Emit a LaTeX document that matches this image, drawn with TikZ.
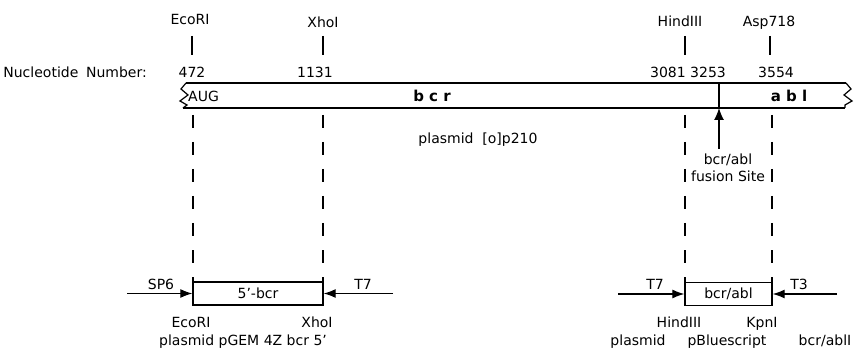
\documentclass[tikz,border=0pt]{standalone}
\usepackage{fontspec}
\setmainfont{DejaVu Sans}
\usetikzlibrary{arrows.meta}
\newcommand\lblfont{\fontsize{14}{16}\selectfont}
\newcommand\genefont{\fontsize{15}{17}\selectfont\bfseries}
\begin{document}
\begin{tikzpicture}[x=1pt,y=-1pt,
  lbl/.style={font=\lblfont, inner sep=0pt, anchor=base},
  barline/.style={line width=1.4pt, line join=miter},
  tick/.style={line width=1.4pt},
  dashln/.style={line width=1.4pt, dash pattern=on 13pt off 14pt, dash phase=20pt},
  arr/.style={-{Latex[length=12pt,width=9pt]}, line width=1.2pt},
  boxn/.style={draw, line width=1.3pt, minimum height=23pt, inner sep=0pt, font=\lblfont}]
\useasboundingbox (0,0) rectangle (854,358);

% ---- main bar ----
\coordinate (btl) at (186,83);
\coordinate (btr) at (846,83);
\coordinate (bbl) at (183,108);
\coordinate (bbr) at (845,108);
\draw[barline] (btl) -- (btr);
\draw[barline] (bbl) -- (bbr);
\draw[line width=1.2pt] (btl) -- (181,89) -- (188,95) -- (180,101) -- (187,105) -- (bbl);
\draw[line width=1.2pt] (btr) -- (851,89) -- (844,95) -- (852,101) -- (845,105) -- (bbr);
\coordinate (fusT) at (719,83);
\coordinate (fusB) at (719,108);
\draw[line width=1.2pt] (fusT) -- (fusB);

\node[lbl, anchor=base west] (aug) at (188,102) {AUG};
\node[lbl, font=\genefont] (bcr) at (432,102) {b c r};
\node[lbl, font=\genefont] (abl) at (789,102) {a b l};

% ---- top labels ----
\node[lbl, anchor=base east] (nuc) at (147,78) {Nucleotide\hspace{0.55em}Number:};
\node[lbl] (n472) at (192,78) {472};
\node[lbl] (n1131) at (315,78) {1131};
\node[lbl, anchor=base east] (n3081) at (686,78) {3081};
\node[lbl, anchor=base west] (n3253) at (690,78) {3253};
\node[lbl] (n3554) at (776,78) {3554};

\node[lbl] (eco) at (190,25) {EcoRI};
\node[lbl] (xho) at (323,28) {XhoI};
\node[lbl] (hin) at (680,27) {HindIII};
\node[lbl] (asp) at (769,27) {Asp718};

\coordinate (tE1) at (192,36); \coordinate (tE2) at (192,55);
\coordinate (tX1) at (323,36); \coordinate (tX2) at (323,55);
\coordinate (tH1) at (685,36); \coordinate (tH2) at (685,55);
\coordinate (tA1) at (770,36); \coordinate (tA2) at (770,55);
\draw[tick] (tE1) -- (tE2);
\draw[tick] (tX1) -- (tX2);
\draw[tick] (tH1) -- (tH2);
\draw[tick] (tA1) -- (tA2);

\node[lbl] (p210) at (478,144) {plasmid\ \ [o]p210};

% ---- fusion site ----
\coordinate (fusTail) at (719,149);
\draw[-{Latex[length=12pt,width=10pt]}, line width=1.2pt] (fusTail) -- (fusB);
\node[lbl] (fus1) at (728,165) {bcr/abl};
\node[lbl] (fus2) at (728,182) {fusion Site};

% ---- lower boxes ----
\node[boxn, minimum width=130pt] (box1) at (258,293.5) {5'-bcr};
\node[boxn, minimum width=87pt] (box2) at (728.5,294) {bcr/abl};

% dashed guides
\coordinate (dE) at (193,108);
\coordinate (dX) at (323,108);
\coordinate (dH) at (685,108);
\coordinate (dA) at (772,108);
\draw[dashln] (dE) -- (dE |- box1.north);
\draw[dashln] (dX) -- (dX |- box1.north);
\draw[dashln] (dH) -- (dH |- box2.north);
\draw[dashln] (dA) -- (dA |- box2.north);

% primers
\coordinate (sp6s) at (127,293.5);
\coordinate (t7s) at (393,293.5);
\coordinate (t7bs) at (618,294);
\coordinate (t3s) at (837,294);
\draw[arr] (sp6s) -- (box1.west);
\draw[arr] (t7s) -- (box1.east);
\draw[arr] (t7bs) -- (box2.west);
\draw[arr] (t3s) -- (box2.east);
\node[lbl] (sp6) at (161,289) {SP6};
\node[lbl] (t7a) at (363,289) {T7};
\node[lbl] (t7b) at (655,289) {T7};
\node[lbl] (t3) at (799,289) {T3};

% lower labels
\node[lbl] (eco2) at (191,327) {EcoRI};
\node[lbl] (xho2) at (317,327) {XhoI};
\node[lbl] (hin2) at (679,327) {HindIII};
\node[lbl] (kpn) at (762,327) {KpnI};
\node[lbl] (pgem) at (243,345) {plasmid pGEM 4Z bcr 5'};
\node[lbl] (pbl1) at (638,345) {plasmid};
\node[lbl] (pbl2) at (727,345) {pBluescript};
\node[lbl] (pbl3) at (825,345) {bcr/ablI};
\end{tikzpicture}
\end{document}
